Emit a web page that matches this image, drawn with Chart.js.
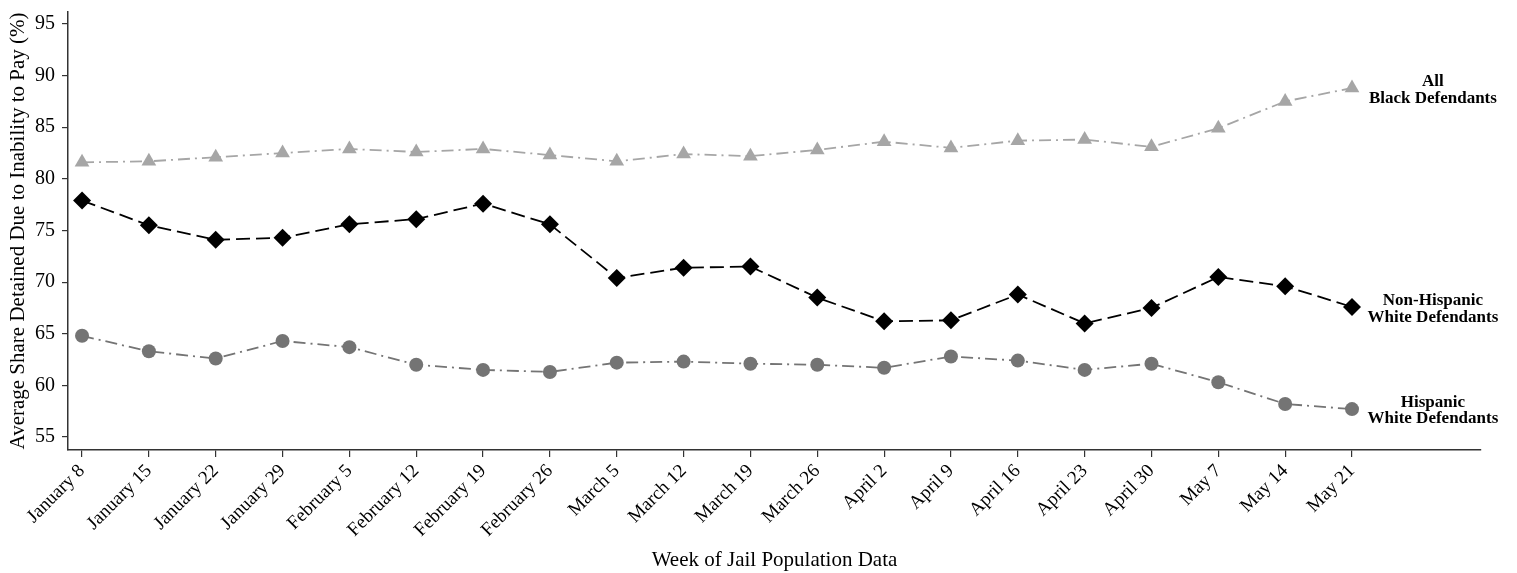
<!DOCTYPE html>
<html>
<head>
<meta charset="utf-8">
<script src="https://cdn.jsdelivr.net/npm/chart.js@4"></script>
<style>
  body { margin: 0; background: #fff; }
  #wrap { width: 1517px; height: 573px; position: relative; }
</style>
</head>
<body>
<div id="wrap"><canvas id="jailChart"></canvas></div>
<script>
// weeks of jail population data
const weeks = ["January 8", "January 15", "January 22", "January 29", "February 5", "February 12",
  "February 19", "February 26", "March 5", "March 12", "March 19", "March 26", "April 2", "April 9",
  "April 16", "April 23", "April 30", "May 7", "May 14", "May 21"];

// average share detained due to inability to pay (%)
const blackDefendants = [81.6, 81.7, 82.1, 82.5, 82.9, 82.6, 82.9, 82.3, 81.7, 82.4,
  82.2, 82.8, 83.6, 83.0, 83.7, 83.8, 83.1, 84.9, 87.5, 88.8];
const nonHispanicWhite = [77.9, 75.5, 74.1, 74.3, 75.6, 76.1, 77.6, 75.6, 70.4, 71.4,
  71.5, 68.5, 66.2, 66.3, 68.8, 66.0, 67.5, 70.5, 69.6, 67.6];
const hispanicWhite = [64.8, 63.3, 62.6, 64.3, 63.7, 62.0, 61.5, 61.3, 62.2, 62.3,
  62.1, 62.0, 61.7, 62.8, 62.4, 61.5, 62.1, 60.3, 58.2, 57.7];

const yTicks = [55, 60, 65, 70, 75, 80, 85, 90, 95];

// labels at the right end of each line
const lineLabels = [
  { lines: ["All", "Black Defendants"], y: 88.6 },
  { lines: ["Non-Hispanic", "White Defendants"], y: 67.4 },
  { lines: ["Hispanic", "White Defendants"], y: 57.6 }
];

const serif = "'Liberation Serif', 'Times New Roman', serif";

function toPoints(values) {
  return values.map((v, i) => ({ x: i, y: v }));
}

// draws the end-of-line labels
const endLabels = {
  id: "endLabels",
  afterDatasetsDraw(chart) {
    const ctx = chart.ctx;
    const xs = chart.scales.x;
    const ys = chart.scales.y;
    ctx.save();
    ctx.font = "bold 17px " + serif;
    ctx.fillStyle = "#000";
    ctx.textAlign = "center";
    ctx.textBaseline = "middle";
    const cx = xs.getPixelForValue(20.21);
    lineLabels.forEach(lbl => {
      const cy = ys.getPixelForValue(lbl.y);
      ctx.fillText(lbl.lines[0], cx, cy - 8);
      ctx.fillText(lbl.lines[1], cx, cy + 8.5);
    });
    ctx.restore();
  }
};

const ctx = document.getElementById("jailChart").getContext("2d");
new Chart(ctx, {
  type: "line",
  data: {
    datasets: [
      {
        label: "All Black Defendants",
        data: toPoints(blackDefendants),
        borderColor: "#a6a6a6",
        backgroundColor: "#a6a6a6",
        borderWidth: 1.8,
        borderDash: [12, 5, 2, 5],
        pointStyle: "triangle",
        pointRadius: 8.5,
        pointBorderWidth: 0
      },
      {
        label: "Non-Hispanic White Defendants",
        data: toPoints(nonHispanicWhite),
        borderColor: "#000",
        backgroundColor: "#000",
        borderWidth: 1.8,
        borderDash: [14, 6],
        pointStyle: "rectRot",
        pointRadius: 9,
        pointBorderWidth: 0
      },
      {
        label: "Hispanic White Defendants",
        data: toPoints(hispanicWhite),
        borderColor: "#747474",
        backgroundColor: "#747474",
        borderWidth: 1.8,
        borderDash: [12, 5, 2, 5],
        pointStyle: "circle",
        pointRadius: 7,
        pointBorderWidth: 0
      }
    ]
  },
  options: {
    responsive: true,
    maintainAspectRatio: false,
    animation: false,
    layout: { padding: { top: 12, right: 36, left: 0, bottom: 0 } },
    plugins: {
      legend: { display: false },
      tooltip: { enabled: false }
    },
    scales: {
      x: {
        type: "linear",
        min: -0.21,
        max: 20.93,
        afterBuildTicks(scale) {
          scale.ticks = weeks.map((w, i) => ({ value: i }));
        },
        afterFit(scale) { scale.height = 123; },
        border: { display: true, color: "#333", width: 1.5 },
        grid: { display: true, drawOnChartArea: false, drawTicks: true, tickLength: 7, color: "#333", lineWidth: 1.2 },
        ticks: {
          autoSkip: false,
          maxRotation: 45,
          minRotation: 45,
          padding: 3,
          color: "#000",
          font: { family: serif, size: 19 },
          callback: (value) => weeks[value]
        },
        title: {
          display: true,
          text: "Week of Jail Population Data",
          color: "#000",
          font: { family: serif, size: 21 },
          padding: { top: 0, bottom: 0 }
        }
      },
      y: {
        min: 53.74,
        max: 96.16,
        afterBuildTicks(scale) {
          scale.ticks = yTicks.map(v => ({ value: v }));
        },
        afterFit(scale) {
          scale.width = 68;
          scale.paddingTop = 0;
          scale.paddingBottom = 0;
        },
        border: { display: true, color: "#333", width: 1.5 },
        grid: { display: true, drawOnChartArea: false, drawTicks: true, tickLength: 6, color: "#333", lineWidth: 1.2 },
        ticks: {
          padding: 7,
          color: "#000",
          font: { family: serif, size: 20 }
        },
        title: {
          display: true,
          text: "Average Share Detained Due to Inability to Pay (%)",
          color: "#000",
          font: { family: serif, size: 21 },
          padding: { top: 6, bottom: 0 }
        }
      }
    }
  },
  plugins: [endLabels]
});
</script>
</body>
</html>
